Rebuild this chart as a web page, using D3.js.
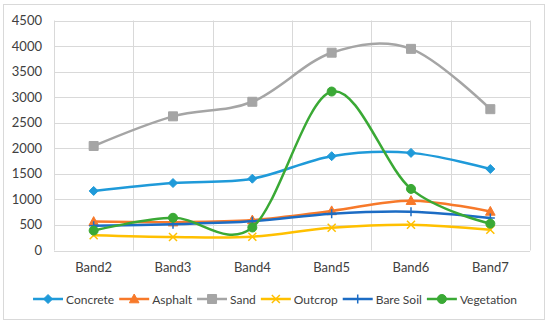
<!DOCTYPE html>
<html lang="en">
<head>
<meta charset="utf-8">
<script src="https://cdn.jsdelivr.net/npm/d3@7"></script>
<style>
    body { margin: 0; background: #fff; }
    text { font-family: Lato, "Open Sans", sans-serif; fill: #404040; }
    .grid line { stroke: #d9d9d9; stroke-width: 1; }
</style>
</head>
<body>
<div id="chart"></div>
<script type="text/javascript">
    var bands = ["Band2", "Band3", "Band4", "Band5", "Band6", "Band7"];
    var yTicks = [0, 500, 1000, 1500, 2000, 2500, 3000, 3500, 4000, 4500];

    var concrete   = [1165, 1320, 1405, 1845, 1910, 1595];
    var asphalt    = [565, 555, 595, 775, 975, 765];
    var sand       = [2045, 2625, 2910, 3870, 3945, 2765];
    var outcrop    = [300, 265, 270, 445, 505, 405];
    var bareSoil   = [485, 515, 570, 720, 760, 635];
    var vegetation = [390, 640, 450, 3110, 1205, 525];

    var seriesNames  = ["Concrete", "Asphalt", "Sand", "Outcrop", "Bare Soil", "Vegetation"];
    var seriesValues = [concrete, asphalt, sand, outcrop, bareSoil, vegetation];
    var seriesColors = ["#1f9ad9", "#f7792a", "#a5a5a5", "#ffc000", "#1c6cc4", "#3aa935"];
    var seriesMarkers = ["diamond", "triangle", "square", "cross", "plus", "circle"];

    var width = 550, height = 324;
    var plot = {left: 54, right: 530, top: 20.5, bottom: 250.5};

    var svg = d3.select("#chart").append("svg")
        .attr("width", width)
        .attr("height", height);

    // outer frame
    svg.append("rect")
        .attr("x", 3.5).attr("y", 4.5)
        .attr("width", 541).attr("height", 315)
        .attr("fill", "#fff")
        .attr("stroke", "#d9d9d9");

    var x = d3.scaleBand().domain(bands).range([plot.left, plot.right]);
    var y = d3.scaleLinear().domain([0, 4500]).range([plot.bottom, plot.top]);

    var grid = svg.append("g").attr("class", "grid");
    grid.selectAll(".hline")
        .data(yTicks)
        .enter().append("line")
        .attr("x1", plot.left).attr("x2", plot.right)
        .attr("y1", function(d) { return Math.round(y(d)) + 0.5; })
        .attr("y2", function(d) { return Math.round(y(d)) + 0.5; });
    grid.selectAll(".vline")
        .data(bands.concat(["end"]))
        .enter().append("line")
        .attr("x1", function(d, i) { return Math.round(plot.left + i * x.step()) + 0.5; })
        .attr("x2", function(d, i) { return Math.round(plot.left + i * x.step()) + 0.5; })
        .attr("y1", plot.top).attr("y2", plot.bottom);

    svg.selectAll(".ylab")
        .data(yTicks)
        .enter().append("text")
        .attr("x", 42)
        .attr("y", function(d) { return y(d) + 4.5; })
        .attr("text-anchor", "end")
        .style("font-size", "13px")
        .text(function(d) { return d; });

    svg.selectAll(".xlab")
        .data(bands)
        .enter().append("text")
        .attr("x", function(d) { return x(d) + x.bandwidth() / 2; })
        .attr("y", 272)
        .attr("text-anchor", "middle")
        .style("font-size", "13px")
        .text(function(d) { return d; });

    function markerPath(type) {
        if (type === "diamond") return "M0,-4.5L4.5,0L0,4.5L-4.5,0Z";
        if (type === "triangle") return "M0,-5L4.8,3.8L-4.8,3.8Z";
        if (type === "square") return "M-4.5,-4.5H4.5V4.5H-4.5Z";
        if (type === "cross") return "M-4,-4L4,4M-4,4L4,-4";
        if (type === "plus") return "M-4.5,0H4.5M0,-4.5V4.5";
        return d3.symbol().type(d3.symbolCircle).size(64)();
    }
    function drawMarker(g, type, color) {
        var open = (type === "cross" || type === "plus");
        g.append("path")
            .attr("d", markerPath(type))
            .attr("fill", open ? "none" : color)
            .attr("stroke", color)
            .attr("stroke-width", open ? 1.5 : 1);
    }

    var line = d3.line()
        .x(function(d, i) { return x(bands[i]) + x.bandwidth() / 2; })
        .y(function(d) { return y(d); })
        .curve(d3.curveCatmullRom.alpha(0));

    seriesValues.forEach(function(vals, s) {
        var g = svg.append("g");
        g.append("path")
            .datum(vals)
            .attr("d", line)
            .attr("fill", "none")
            .attr("stroke", seriesColors[s])
            .attr("stroke-width", 2.5)
            .attr("stroke-linecap", "round");
        vals.forEach(function(v, i) {
            var m = g.append("g")
                .attr("transform", "translate(" + (x(bands[i]) + x.bandwidth() / 2) + "," + y(v) + ")");
            drawMarker(m, seriesMarkers[s], seriesColors[s]);
        });
    });

    // legend, laid out left to right then centred
    var legend = svg.append("g");
    var cursor = 0;
    seriesNames.forEach(function(name, s) {
        var lg = legend.append("g").attr("transform", "translate(" + cursor + ",0)");
        lg.append("line")
            .attr("x1", 0).attr("x2", 30)
            .attr("stroke", seriesColors[s])
            .attr("stroke-width", 2.5);
        drawMarker(lg.append("g").attr("transform", "translate(15,0)"), seriesMarkers[s], seriesColors[s]);
        var t = lg.append("text")
            .attr("x", 33)
            .attr("y", 4.5)
            .style("font-size", "12px")
            .text(name);
        cursor += 33 + t.node().getComputedTextLength() + 5;
    });
    var total = cursor - 5;
    legend.attr("transform", "translate(" + (275 - total / 2) + ",299)");
</script>
</body>
</html>
